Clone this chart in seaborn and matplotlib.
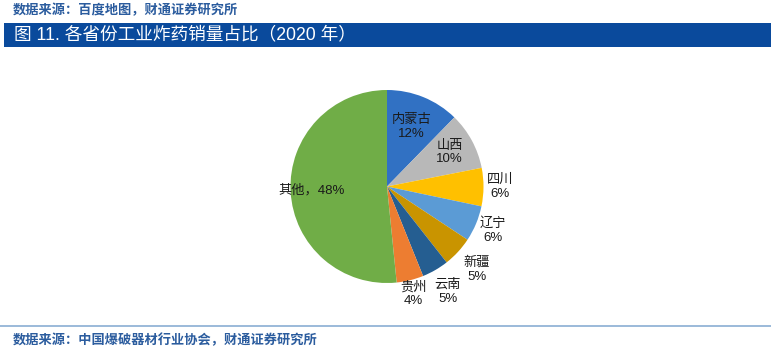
import numpy as np
import matplotlib
matplotlib.use("Agg")
import matplotlib.pyplot as plt
import seaborn as sns
from matplotlib.patches import Rectangle

# 数据（份额按图中扇区角度读取，标签为图中显示的百分比）
provinces = ["内蒙古", "山西", "四川", "辽宁", "新疆", "云南", "贵州", "其他"]
shares = [12.3, 9.6, 6.4, 6.0, 5.1, 4.5, 4.5, 51.6]
pct_labels = ["12%", "10%", "6%", "6%", "5%", "5%", "4%", "48%"]
colors = ["#3171C3", "#B8B8B8", "#FFC000", "#5B9BD5", "#C99400", "#255E91", "#ED7D31", "#70AD47"]

sns.set_theme(style="white")
plt.rcParams['font.family'] = ['Noto Sans CJK SC', 'DejaVu Sans']

W, H = 776, 358
fig = plt.figure(figsize=(W / 100, H / 100), dpi=100)
fig.patch.set_facecolor("white")

# 顶部来源 + 标题栏 + 底部分隔线
fig.text(13 / W, 1 - 10 / H, "数据来源：百度地图，财通证券研究所", fontsize=9.5, fontweight="bold",
         color="#2B5C9E", va="center", ha="left")
fig.patches.append(Rectangle((4 / W, 1 - 47 / H), 767 / W, 24 / H, transform=fig.transFigure,
                             facecolor="#0A4A9C", edgecolor="none"))
fig.text(14 / W, 1 - 35 / H, "图 11. 各省份工业炸药销量占比（2020 年）", fontsize=12.7,
         fontweight="medium", family=['Liberation Sans', 'Noto Sans CJK SC'],
         color="white", va="center", ha="left")
fig.patches.append(Rectangle((0, 1 - 327 / H), 771 / W, 2.5 / H, transform=fig.transFigure,
                             facecolor="#9DBBDA", edgecolor="none"))
fig.text(13 / W, 1 - 340 / H, "数据来源：中国爆破器材行业协会，财通证券研究所", fontsize=9.5, fontweight="bold",
         color="#2B5C9E", va="center", ha="left")

# 饼图
cx, cy, r = 387, 186.5, 96.5
ax = fig.add_axes([(cx - r) / W, (H - cy - r) / H, 2 * r / W, 2 * r / H])
wedges, _ = ax.pie(shares, colors=colors, startangle=90, counterclock=False,
                   wedgeprops=dict(linewidth=0))
ax.set_xlim(-1, 1)
ax.set_ylim(-1, 1)
ax.set_aspect("equal")
ax.axis("off")

label_r = [0.67, 0.74, 1.17, 1.19, 1.27, 1.26, 1.15, 0.78]
for w, name, pct, lr in zip(wedges, provinces, pct_labels, label_r):
    th = np.deg2rad((w.theta1 + w.theta2) / 2)
    x, y = lr * np.cos(th), lr * np.sin(th)
    txt = f"{name}，{pct}" if name == "其他" else f"{name}\n{pct}"
    ax.text(x, y, txt, ha="center", va="center", fontsize=9.5, color="#1a1a1a",
            family=['Liberation Sans', 'Noto Sans CJK SC'],
            linespacing=1.2, clip_on=False)

fig.savefig("out.png", dpi=100)
